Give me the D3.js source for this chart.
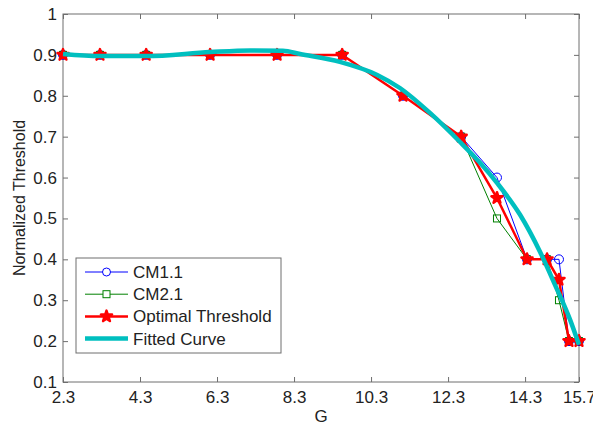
<!DOCTYPE html>
<html>
<head>
<meta charset="utf-8">
<script src="https://cdn.jsdelivr.net/npm/d3@7"></script>
<style>
  body { margin: 0; background: #fff; }
  text { font-family: "Liberation Sans", Arial, sans-serif; }
</style>
</head>
<body>
<script>
// values
const gValues = [2.3, 3.26, 4.46, 6.12, 7.86, 9.55, 11.13, 12.64, 13.57, 14.35, 14.87, 15.18, 15.44, 15.7];
const cm11 = [0.9, 0.9, 0.9, 0.9, 0.9, 0.9, 0.8, 0.7, 0.6, 0.4, 0.4, 0.4, 0.2, 0.2];
const cm21 = [0.9, 0.9, 0.9, 0.9, 0.9, 0.9, 0.8, 0.7, 0.5, 0.4, 0.4, 0.3, 0.2, 0.2];
const optimal = [0.9, 0.9, 0.9, 0.9, 0.9, 0.9, 0.8, 0.7, 0.55, 0.4, 0.4, 0.35, 0.2, 0.2];

const fitG = [2.3, 3.26, 4.46, 6.12, 7.16, 8.01, 8.46, 9.49, 10.46, 11.05, 11.83, 12.61, 13.13, 13.57, 14.17, 14.69, 15.08, 15.47, 15.7];
const fitY = [0.902, 0.897, 0.897, 0.907, 0.911, 0.910, 0.902, 0.883, 0.851, 0.819, 0.758, 0.687, 0.636, 0.587, 0.509, 0.418, 0.337, 0.252, 0.191];

const xTicks = [2.3, 4.3, 6.3, 8.3, 10.3, 12.3, 14.3, 15.7];
const yTicks = [0.1, 0.2, 0.3, 0.4, 0.5, 0.6, 0.7, 0.8, 0.9, 1];

const legendNames = ["CM1.1", "CM2.1", "Optimal Threshold", "Fitted Curve"];

var width = 593, height = 426;
var m = { left: 63, right: 14, top: 14, bottom: 44 };
var fs = "17px";

var svg = d3.select("body").append("svg").attr("width", width).attr("height", height);

var x = d3.scaleLinear().domain([2.3, 15.7]).range([m.left, width - m.right]);
var y = d3.scaleLinear().domain([0.1, 1]).range([height - m.bottom, m.top]);

var axisColor = "#6e6e6e";

// frame
svg.append("rect")
  .attr("x", x(2.3)).attr("y", y(1))
  .attr("width", x(15.7) - x(2.3)).attr("height", y(0.1) - y(1))
  .attr("fill", "none").attr("stroke", axisColor).attr("stroke-width", 1);

// axes, ticks inside
var xAxis = svg.append("g").attr("transform", "translate(0," + y(0.1) + ")")
  .call(d3.axisBottom(x).tickValues(xTicks).tickSize(-5).tickPadding(9).tickFormat(d3.format(".1f")));
var xAxisTop = svg.append("g").attr("transform", "translate(0," + y(1) + ")")
  .call(d3.axisTop(x).tickValues(xTicks).tickSize(-5).tickFormat(""));
var yAxis = svg.append("g").attr("transform", "translate(" + x(2.3) + ",0)")
  .call(d3.axisLeft(y).tickValues(yTicks).tickSize(-5).tickPadding(6).tickFormat(d => d === 1 ? "1" : d3.format(".1f")(d)));
var yAxisR = svg.append("g").attr("transform", "translate(" + x(15.7) + ",0)")
  .call(d3.axisRight(y).tickValues(yTicks).tickSize(-5).tickFormat(""));

[xAxis, xAxisTop, yAxis, yAxisR].forEach(function (g) {
  g.select(".domain").remove();
  g.selectAll(".tick line").attr("stroke", axisColor);
  g.selectAll(".tick text").attr("fill", "#222").style("font-size", fs);
});

svg.append("text").attr("x", (x(2.3) + x(15.7)) / 2).attr("y", 422)
  .attr("text-anchor", "middle").style("font-size", fs).attr("fill", "#222").text("G");
svg.append("text").attr("transform", "translate(25," + y(0.55) + ") rotate(-90)")
  .attr("text-anchor", "middle").style("font-size", "16px").attr("fill", "#222").text("Normalized Threshold");

var line = d3.line().x(d => x(d[0])).y(d => y(d[1]));

function series(vals) { return gValues.map((g, i) => [g, vals[i]]); }

// CM1.1
svg.append("path").datum(series(cm11)).attr("d", line)
  .attr("fill", "none").attr("stroke", "#0000ff").attr("stroke-width", 1);
svg.append("g").selectAll("circle").data(series(cm11)).enter().append("circle")
  .attr("cx", d => x(d[0])).attr("cy", d => y(d[1])).attr("r", 4.5)
  .attr("fill", "none").attr("stroke", "#0000ff").attr("stroke-width", 1);

// CM2.1
svg.append("path").datum(series(cm21)).attr("d", line)
  .attr("fill", "none").attr("stroke", "#008000").attr("stroke-width", 1);
svg.append("g").selectAll("rect").data(series(cm21)).enter().append("rect")
  .attr("x", d => x(d[0]) - 3.5).attr("y", d => y(d[1]) - 3.5).attr("width", 7).attr("height", 7)
  .attr("fill", "none").attr("stroke", "#008000").attr("stroke-width", 1);

// Optimal
var star = d3.symbol().type(d3.symbolStar).size(38);
svg.append("path").datum(series(optimal)).attr("d", line)
  .attr("fill", "none").attr("stroke", "#ff0000").attr("stroke-width", 2.5);
svg.append("g").selectAll("path").data(series(optimal)).enter().append("path")
  .attr("d", star)
  .attr("transform", d => "translate(" + x(d[0]) + "," + y(d[1]) + ")")
  .attr("fill", "#ff0000").attr("stroke", "#ff0000").attr("stroke-width", 2.5).attr("stroke-linejoin", "round");

// Fitted curve
svg.append("path").datum(fitG.map((g, i) => [g, fitY[i]]))
  .attr("d", d3.line().x(d => x(d[0])).y(d => y(d[1])).curve(d3.curveMonotoneX))
  .attr("fill", "none").attr("stroke", "#00bfbf").attr("stroke-width", 4.5);

// legend
var lg = svg.append("g").attr("transform", "translate(76,258)");
lg.append("rect").attr("width", 205).attr("height", 95)
  .attr("fill", "#fff").attr("stroke", axisColor).attr("stroke-width", 1);
var rows = lg.selectAll("g").data(legendNames).enter().append("g")
  .attr("transform", (d, i) => "translate(0," + (14 + i * 22.2) + ")");
rows.append("line").attr("x1", 9).attr("x2", 52)
  .attr("stroke", (d, i) => ["#0000ff", "#008000", "#ff0000", "#00bfbf"][i])
  .attr("stroke-width", (d, i) => [1, 1, 2.5, 4.5][i]);
rows.append("text").attr("x", 57).attr("dy", "0.35em").style("font-size", fs).attr("fill", "#222").text(d => d);
rows.filter((d, i) => i === 0).append("circle").attr("cx", 30.5).attr("r", 4)
  .attr("fill", "#fff").attr("stroke", "#0000ff");
rows.filter((d, i) => i === 1).append("rect").attr("x", 27).attr("y", -3.5).attr("width", 7).attr("height", 7)
  .attr("fill", "#fff").attr("stroke", "#008000");
rows.filter((d, i) => i === 2).append("path").attr("d", star).attr("transform", "translate(30.5,0)")
  .attr("fill", "#ff0000").attr("stroke", "#ff0000").attr("stroke-width", 2.5).attr("stroke-linejoin", "round");
</script>
</body>
</html>
